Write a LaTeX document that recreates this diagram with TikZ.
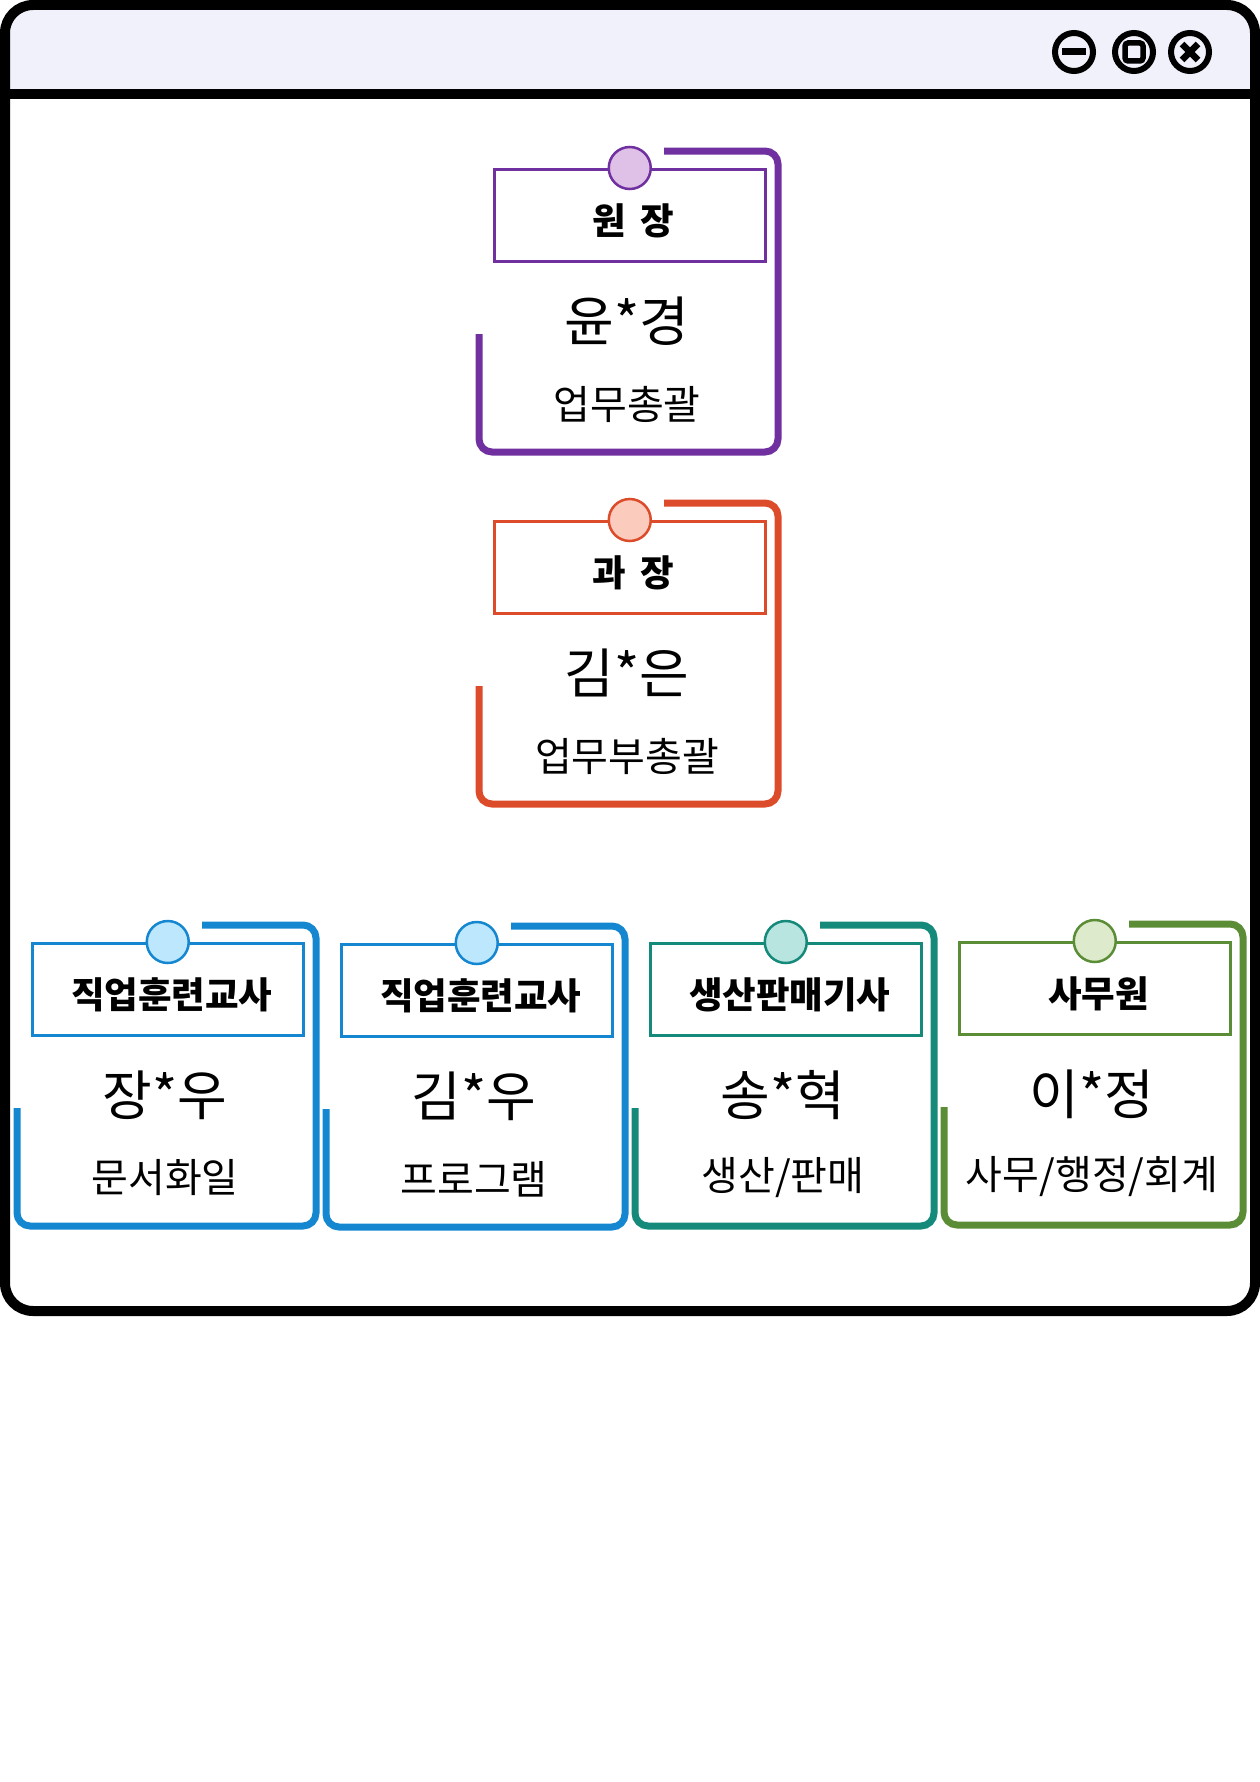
\documentclass[tikz,border=0pt]{standalone}
\usepackage{fontspec}
\newfontfamily\kr{Noto Sans CJK KR}
\definecolor{purp}{HTML}{7030A0}
\definecolor{Lpurp}{HTML}{DFC0E6}
\definecolor{rust}{HTML}{DC4B2A}
\definecolor{Lrust}{HTML}{FBCBBD}
\definecolor{sky}{HTML}{1487D0}
\definecolor{Lsky}{HTML}{BDE7FC}
\definecolor{teal}{HTML}{158A7A}
\definecolor{Lteal}{HTML}{B8E5DF}
\definecolor{leaf}{HTML}{5B8D36}
\definecolor{Lleaf}{HTML}{DDEACB}
\definecolor{barfill}{HTML}{F0F1FA}
\begin{document}
\begin{tikzpicture}[x=1pt,y=-1pt,
	frame/.style={line width=10},
	winbtn/.style={circle,draw,line width=6,minimum size=38,inner sep=0},
	bracket/.style={line width=7,rounded corners=13},
	postbox/.style={draw,line width=2.5,minimum width=271,minimum height=92,inner sep=0,anchor=north west},
	pin/.style={circle,draw,line width=2.5,minimum size=42,inner sep=0},
	titletext/.style={font=\kr\bfseries\fontsize{36.5}{42}\selectfont},
	nametext/.style={font=\kr\fontsize{54}{64}\selectfont},
	roletext/.style={font=\kr\fontsize{40}{48}\selectfont}]
	\useasboundingbox (0,0) rectangle (1260,1782);
	% window
	\fill[barfill,rounded corners=28] (5,5) rectangle (1255,140);
	\fill[white] (5,94) rectangle (1255,140);
	\draw[frame,rounded corners=28] (5,5) rectangle (1255,1311);
	\draw[frame] (5,94) -- (1255,94);
	\node[winbtn] (min) at (1074,52) {};
	\node[winbtn] (max) at (1134,52) {};
	\node[winbtn] (close) at (1190,52) {};
	\draw[line width=7] ([xshift=-12]min.center) -- ([xshift=12]min.center);
	\draw[line width=5.5,rounded corners=3] ([shift={(-9,-9)}]max.center) rectangle ([shift={(9,9)}]max.center);
	\draw[line width=6.5] ([shift={(-8,-8)}]close.center) -- ([shift={(8,8)}]close.center)
		([shift={(-8,8)}]close.center) -- ([shift={(8,-8)}]close.center);
	% posts
	\foreach \i/\l/\t/\c/\title/\name/\role in {
		a/493/168/purp/원\hspace{6pt} 장/윤*경/업무총괄,
		b/493/520/rust/과\hspace{6pt} 장/김*은/업무부총괄,
		c/31/942/sky/직업훈련교사/장*우/문서화일,
		d/340/943/sky/직업훈련교사/김*우/프로그램,
		e/649/942/teal/생산판매기사/송*혁/{생산/판매},
		f/958/941/leaf/사무원/이*정/{사무/행정/회계}}{
		\draw[bracket,\c] (\l+171,\t-17) -- (\l+285,\t-17) -- (\l+285,\t+284) -- (\l-14,\t+284) -- (\l-14,\t+166);
		\node[postbox,draw=\c] (box\i) at (\l,\t) {};
		\node[pin,draw=\c,fill=L\c] (pin\i) at (box\i.north) {};
		\node[titletext] (title\i) at ([xshift=4,yshift=-6]box\i.center) {\title};
		\node[nametext] (name\i) at (\l+134,\t+153) {\name};
		\node[roletext] (role\i) at (\l+134,\t+236) {\role};
	}
\end{tikzpicture}
\end{document}
